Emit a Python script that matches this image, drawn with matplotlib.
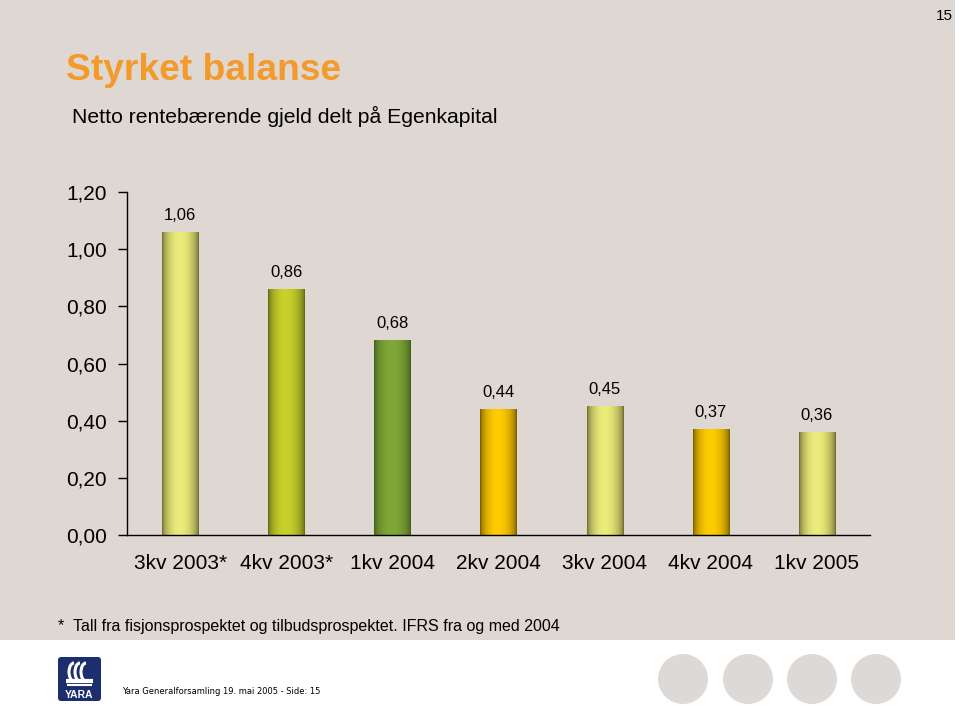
import numpy as np
import matplotlib.pyplot as plt
from matplotlib.colors import to_rgb
from matplotlib.patches import Rectangle, Circle, FancyBboxPatch, Arc

plt.rcParams['font.family'] = ['Liberation Sans', 'DejaVu Sans']

# data
kategorier = ['3kv 2003*', '4kv 2003*', '1kv 2004', '2kv 2004', '3kv 2004', '4kv 2004', '1kv 2005']
verdier = [1.06, 0.86, 0.68, 0.44, 0.45, 0.37, 0.36]
y_ticks = [0.0, 0.2, 0.4, 0.6, 0.8, 1.0, 1.2]

# farger: (mørk kant, lys midte)
farger = {
    'gul': ('#66632f', '#ecec7c'),
    'lime': ('#5a6112', '#c9d22b'),
    'gronn': ('#3d5a19', '#80a838'),
    'gull': ('#6f5500', '#ffcc00'),
}
bar_farge = ['gul', 'lime', 'gronn', 'gull', 'gul', 'gull', 'gul']

bakgrunn = '#ded7d2'
oransje = '#f39a2b'

fig = plt.figure(figsize=(9.6, 7.17), dpi=100, facecolor='white')

# bakgrunn / dekor (piksel-koordinater)
bg = fig.add_axes([0, 0, 1, 1])
bg.set_xlim(0, 960)
bg.set_ylim(717, 0)
bg.axis('off')
bg.add_patch(Rectangle((0, 0), 955, 640, color=bakgrunn, lw=0))
for cx in [683, 748, 812, 876]:
    bg.add_patch(Circle((cx, 679), 25, color='#dcd9d7', lw=0))

# logo
bg.add_patch(FancyBboxPatch((58, 657), 43, 44, boxstyle='round,pad=0,rounding_size=3',
                            color='#1c2f6c', lw=0))
for i in range(3):
    bg.add_patch(Arc((74 + i * 6, 672), 10, 18, theta1=90, theta2=270,
                     color='white', lw=2.2))
bg.plot([66, 93], [681, 681], color='white', lw=3, solid_capstyle='butt')
bg.plot([68, 91], [685, 685], color='white', lw=1.5)
bg.text(79.5, 695, 'YARA', color='white', fontsize=7.5, fontweight='bold',
        ha='center', va='center')

fig.text(953 / 960, 1 - 16 / 717, '15', fontsize=11, ha='right', va='center')
fig.text(66 / 960, 1 - 70 / 717, 'Styrket balanse', fontsize=26.7, fontweight='bold',
         color=oransje, va='center')
fig.text(72 / 960, 1 - 116 / 717, 'Netto rentebærende gjeld delt på Egenkapital',
         fontsize=15.2, va='center')
fig.text(58 / 960, 1 - 627 / 717,
         '*  Tall fra fisjonsprospektet og tilbudsprospektet. IFRS fra og med 2004',
         fontsize=11.5, va='center')
fig.text(122 / 960, 1 - 691 / 717, 'Yara Generalforsamling 19. mai 2005 - Side: 15',
         fontsize=6, family='DejaVu Sans', va='center')

# selve diagrammet
ax = fig.add_axes([127 / 960, 1 - 535 / 717, 743 / 960, 343 / 717])
ax.set_facecolor('none')
x = np.arange(len(kategorier))
bars = ax.bar(x, verdier, width=0.34, color='none', zorder=2)

t = np.linspace(0, 1, 80)
profil = np.sin(np.pi * t ** 0.95) ** 0.55
for b, navn in zip(bars, bar_farge):
    mork, lys = (np.array(to_rgb(c)) for c in farger[navn])
    img = mork[None, :] + (lys - mork)[None, :] * profil[:, None]
    x0, w, h = b.get_x(), b.get_width(), b.get_height()
    ax.imshow(img[None, :, :], extent=[x0, x0 + w, 0, h], aspect='auto',
              interpolation='bilinear', zorder=2)

for xi, v in zip(x, verdier):
    ax.annotate(f'{v:.2f}'.replace('.', ','), (xi, v), xytext=(0, 12),
                textcoords='offset points', ha='center', va='center', fontsize=12)

ax.set_xlim(-0.5, len(kategorier) - 0.5)
ax.set_ylim(0, 1.2)
ax.set_yticks(y_ticks)
ax.set_yticklabels([f'{v:.2f}'.replace('.', ',') for v in y_ticks], fontsize=15)
ax.set_xticks(x)
ax.set_xticklabels(kategorier, fontsize=15)
ax.tick_params(axis='y', length=6.5, width=1, pad=8)
ax.tick_params(axis='x', length=0, pad=14)
for s in ['top', 'right']:
    ax.spines[s].set_visible(False)
for s in ['left', 'bottom']:
    ax.spines[s].set_linewidth(1)

fig.savefig('out.png', dpi=100, facecolor='white')
